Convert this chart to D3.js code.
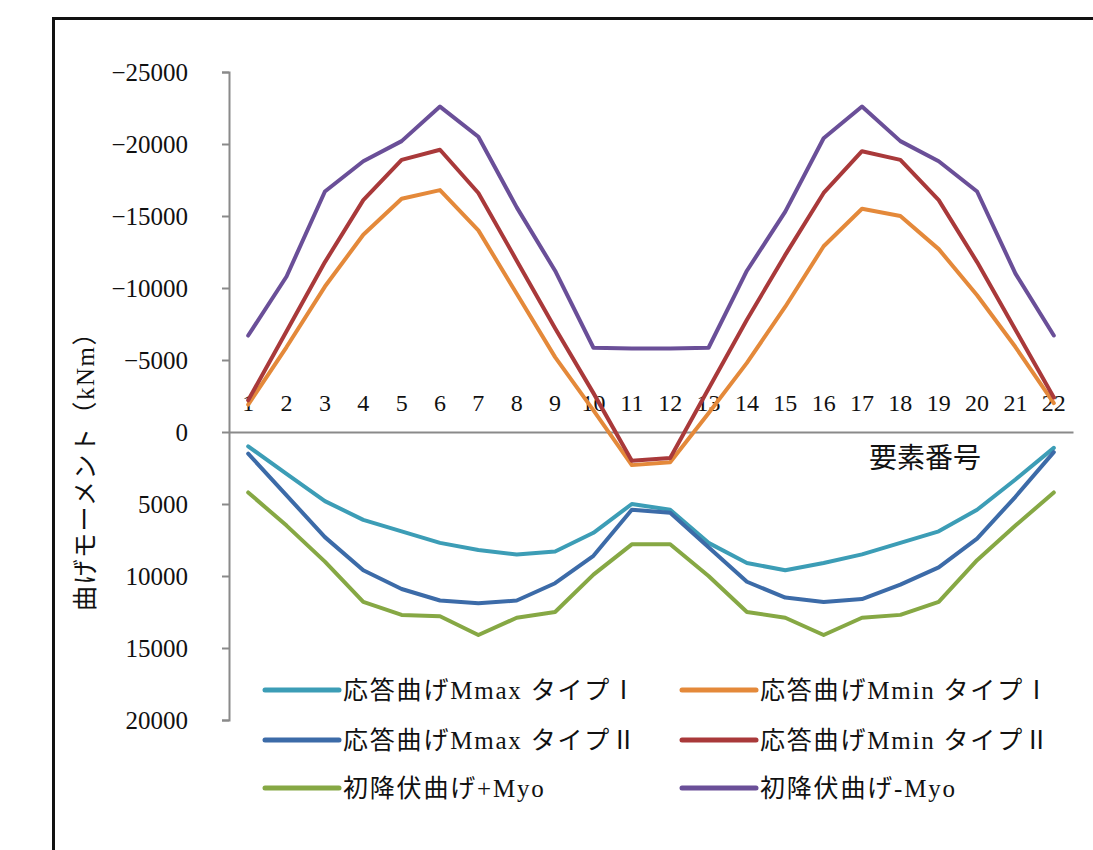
<!DOCTYPE html>
<html>
<head>
<meta charset="utf-8">
<script src="https://cdn.jsdelivr.net/npm/d3@7"></script>
<style>
  html, body { margin: 0; padding: 0; background: #fff; }
  svg { display: block; }
  .num { font-family: "Liberation Serif", "DejaVu Serif", serif; }
  .jp { font-family: "Liberation Serif", "Noto Sans CJK JP", serif; }
</style>
</head>
<body>
<script>
// 要素番号 1〜22
const categories = d3.range(1, 23).map(String);

// 曲げモーメント (kNm) — 負側が上
const mmaxType1 = [1000, 2900, 4800, 6100, 6900, 7700, 8200, 8500, 8300, 7000, 5000,
                   5400, 7700, 9100, 9600, 9100, 8500, 7700, 6900, 5400, 3300, 1100];
const mminType1 = [-1900, -5900, -10100, -13700, -16200, -16800, -14000, -9600, -5200, -1500, 2300,
                   2100, -1300, -4800, -8700, -12900, -15500, -15000, -12700, -9500, -5900, -2000];
const mmaxType2 = [1500, 4400, 7300, 9600, 10900, 11700, 11900, 11700, 10500, 8600, 5400,
                   5600, 8000, 10400, 11500, 11800, 11600, 10600, 9400, 7400, 4500, 1400];
const mminType2 = [-2200, -7000, -11800, -16100, -18900, -19600, -16600, -11900, -7200, -2700, 2000,
                   1800, -3000, -7800, -12300, -16600, -19500, -18900, -16100, -11800, -7100, -2400];
const myoPlus   = [4200, 6500, 9000, 11800, 12700, 12800, 14100, 12900, 12500, 9900, 7800,
                   7800, 10000, 12500, 12900, 14100, 12900, 12700, 11800, 8900, 6500, 4200];
const myoMinus  = [-6700, -10800, -16700, -18800, -20200, -22600, -20500, -15600, -11200, -5850, -5800,
                   -5800, -5850, -11200, -15300, -20400, -22600, -20200, -18800, -16700, -11000, -6700];

const yTicks = [-25000, -20000, -15000, -10000, -5000, 0, 5000, 10000, 15000, 20000];

const seriesNames = ["応答曲げMmax タイプⅠ", "応答曲げMmin タイプⅠ",
                     "応答曲げMmax タイプⅡ", "応答曲げMmin タイプⅡ",
                     "初降伏曲げ+Myo", "初降伏曲げ-Myo"];
const seriesValues = [mmaxType1, mminType1, mmaxType2, mminType2, myoPlus, myoMinus];
const seriesColors = ["#3C9DB6", "#E4893A", "#3C6BA8", "#A9393A", "#86A844", "#6A4F98"];

const W = 1093, H = 850;
const svg = d3.select("body").append("svg").attr("width", W).attr("height", H);

// 外枠
svg.append("rect")
  .attr("x", 53.5).attr("y", 18.5)
  .attr("width", W + 20).attr("height", H + 20)
  .attr("fill", "none").attr("stroke", "#111").attr("stroke-width", 3);

const plot = { left: 229, right: 1073, top: 72, bottom: 720 };

const x = d3.scaleBand().domain(categories).range([plot.left, plot.right]).padding(0);
const xc = c => x(c) + x.bandwidth() / 2;
const y = d3.scaleLinear().domain([-25000, 20000]).range([plot.top, plot.bottom]);

// 縦軸
const yAxis = d3.axisLeft(y)
  .tickValues(yTicks)
  .tickSize(7)
  .tickPadding(34)
  .tickFormat(d3.format("d"));
const gy = svg.append("g").attr("transform", `translate(${plot.left},0)`).call(yAxis);
gy.select(".domain").attr("stroke", "#8a8a8a").attr("stroke-width", 2);
gy.selectAll(".tick line").attr("stroke", "#8a8a8a").attr("stroke-width", 2);
gy.selectAll(".tick text")
  .attr("class", "num")
  .attr("font-size", 25)
  .attr("fill", "#111");

// 横軸 (0 の位置、ラベルは線の上側)
const xAxis = d3.axisTop(x).tickSize(0).tickPadding(21);
const gx = svg.append("g").attr("transform", `translate(0,${y(0)})`).call(xAxis);
gx.select(".domain").attr("stroke", "#8a8a8a").attr("stroke-width", 2);
gx.selectAll(".tick text")
  .attr("class", "num")
  .attr("font-size", 24)
  .attr("fill", "#111");

// 軸タイトル
svg.append("text")
  .attr("class", "jp")
  .attr("x", 925).attr("y", 468)
  .attr("text-anchor", "middle")
  .attr("font-size", 28)
  .attr("fill", "#111")
  .text("要素番号");

svg.append("text")
  .attr("class", "jp")
  .attr("transform", "translate(94,465) rotate(-90)")
  .attr("text-anchor", "middle")
  .attr("font-size", 25)
  .attr("letter-spacing", 1.5)
  .attr("fill", "#111")
  .text("曲げモーメント（kNm）");

// 折れ線
const line = d3.line()
  .x((d, i) => xc(categories[i]))
  .y(d => y(d));

svg.append("g").selectAll("path")
  .data(seriesValues)
  .join("path")
  .attr("d", line)
  .attr("fill", "none")
  .attr("stroke", (d, i) => seriesColors[i])
  .attr("stroke-width", 4)
  .attr("stroke-linejoin", "round")
  .attr("stroke-linecap", "round");

// 凡例 (2列×3行)
const legendCols = [265, 682];
const legendRows = [690, 740, 788];
const lg = svg.append("g").selectAll("g")
  .data(seriesNames)
  .join("g")
  .attr("transform", (d, i) => `translate(${legendCols[i % 2]},${legendRows[Math.floor(i / 2)]})`);
lg.append("line")
  .attr("x1", 0).attr("x2", 74)
  .attr("y1", 0).attr("y2", 0)
  .attr("stroke", (d, i) => seriesColors[i])
  .attr("stroke-width", 5)
  .attr("stroke-linecap", "round");
lg.append("text")
  .attr("class", "jp")
  .attr("x", 78).attr("y", 9)
  .attr("font-size", 25)
  .attr("letter-spacing", 1.8)
  .attr("fill", "#111")
  .text(d => d);
</script>
</body>
</html>
